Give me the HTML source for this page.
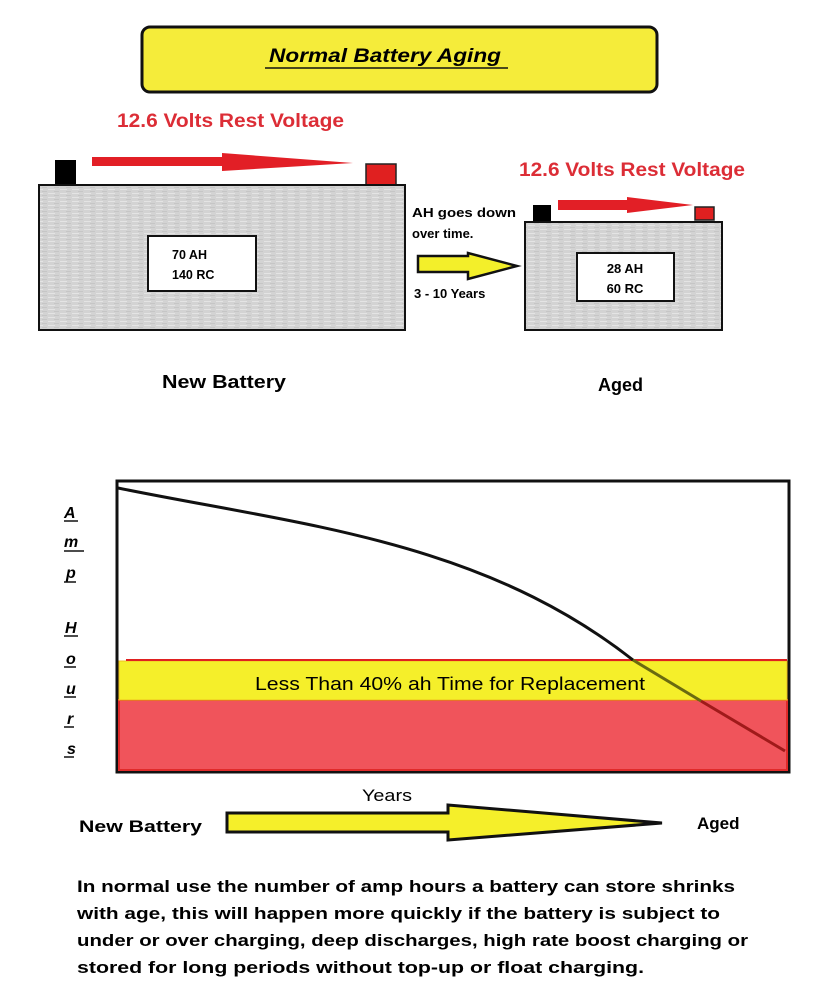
<!DOCTYPE html>
<html><head><meta charset="utf-8"><style>
html,body{margin:0;padding:0;background:#fff;}
svg{display:block;}
text{font-family:"Liberation Sans",sans-serif;}
</style></head><body>
<svg width="840" height="1000" viewBox="0 0 840 1000" xmlns="http://www.w3.org/2000/svg">
<defs>
<pattern id="g" width="12" height="4" patternUnits="userSpaceOnUse">
<rect width="12" height="4" fill="#d3d3d3"/>
<rect x="0" y="1" width="7" height="1" fill="#e4e4e4"/>
<rect x="6" y="3" width="5" height="1" fill="#c6c6c6"/>
</pattern>
</defs>
<!-- title -->
<rect x="142" y="27" width="515" height="65" rx="8" fill="#f5ec3a" stroke="#111" stroke-width="3"/>
<text x="385" y="62" font-size="19" font-weight="bold" font-style="italic" text-anchor="middle" textLength="232" lengthAdjust="spacingAndGlyphs">Normal Battery Aging</text>
<line x1="265" y1="68" x2="508" y2="68" stroke="#111" stroke-width="1.5"/>

<text x="117" y="127" font-size="19" font-weight="bold" fill="#dc2d36" textLength="227" lengthAdjust="spacingAndGlyphs">12.6 Volts Rest Voltage</text>
<!-- big battery -->
<rect x="55" y="160" width="21" height="25" fill="#000"/>
<rect x="366" y="164" width="30" height="21" fill="#e02020" stroke="#222" stroke-width="1.5"/>
<polygon points="92,157 222,157 222,153 353,163 222,171 222,166 92,166" fill="#e21f26"/>
<rect x="39" y="185" width="366" height="145" fill="url(#g)" stroke="#111" stroke-width="2"/>
<rect x="148" y="236" width="108" height="55" fill="#fff" stroke="#111" stroke-width="2"/>
<text x="172" y="259" font-size="12.5" font-weight="bold">70 AH</text>
<text x="172" y="279" font-size="12.5" font-weight="bold">140 RC</text>

<text x="412" y="217" font-size="13" font-weight="bold" textLength="104" lengthAdjust="spacingAndGlyphs">AH goes down</text>
<text x="412" y="238" font-size="13" font-weight="bold">over time.</text>
<polygon points="418,256 468,256 468,253 517,266 468,279 468,272 418,272" fill="#f3ef2a" stroke="#111" stroke-width="2.5"/>
<text x="414" y="298" font-size="13" font-weight="bold">3 - 10 Years</text>

<text x="519" y="176" font-size="19" font-weight="bold" fill="#dc2d36" textLength="226" lengthAdjust="spacingAndGlyphs">12.6 Volts Rest Voltage</text>
<!-- small battery -->
<rect x="533" y="205" width="18" height="17" fill="#000"/>
<rect x="695" y="207" width="19" height="13" fill="#e02020" stroke="#222" stroke-width="1.5"/>
<polygon points="558,200 627,200 627,197 693,205 627,213 627,210 558,210" fill="#e21f26"/>
<rect x="525" y="222" width="197" height="108" fill="url(#g)" stroke="#111" stroke-width="2"/>
<rect x="577" y="253" width="97" height="48" fill="#fff" stroke="#111" stroke-width="2"/>
<text x="625" y="273" font-size="13" font-weight="bold" text-anchor="middle">28 AH</text>
<text x="625" y="293" font-size="13" font-weight="bold" text-anchor="middle">60 RC</text>

<text x="162" y="388" font-size="18" font-weight="bold" textLength="124" lengthAdjust="spacingAndGlyphs">New Battery</text>
<text x="598" y="391" font-size="18" font-weight="bold">Aged</text>

<!-- chart -->
<rect x="117" y="481" width="672" height="291" fill="#fff" stroke="#111" stroke-width="3"/>
<rect x="119" y="700" width="668" height="70" fill="#f0545b" stroke="#e02a2a" stroke-width="2"/>
<rect x="119" y="661" width="668" height="39" fill="#f5ef2a" stroke="#f0c020" stroke-width="1"/>
<line x1="126" y1="660" x2="787" y2="660" stroke="#e02020" stroke-width="2"/>
<path d="M118,488 C300,525 480,540 633,660" fill="none" stroke="#111" stroke-width="3"/>
<line x1="633" y1="660" x2="701" y2="701" stroke="#6a6a10" stroke-width="3"/>
<line x1="701" y1="701" x2="785" y2="751" stroke="#a01a1a" stroke-width="3"/>
<text x="450" y="690" font-size="18" text-anchor="middle" textLength="390" lengthAdjust="spacingAndGlyphs">Less Than 40%  ah Time for Replacement</text>

<g font-size="16" font-weight="bold" font-style="italic">
<text x="64" y="518">A</text>
<text x="64" y="547">m</text>
<text x="66" y="578">p</text>
<text x="65" y="633">H</text>
<text x="66" y="664">o</text>
<text x="66" y="694">u</text>
<text x="67" y="724">r</text>
<text x="67" y="754">s</text>
</g>
<g stroke="#111" stroke-width="1.5">
<line x1="64" y1="521" x2="78" y2="521"/><line x1="64" y1="551" x2="84" y2="551"/>
<line x1="64" y1="582" x2="76" y2="582"/><line x1="64" y1="636" x2="78" y2="636"/>
<line x1="64" y1="667" x2="76" y2="667"/><line x1="64" y1="697" x2="76" y2="697"/>
<line x1="64" y1="727" x2="74" y2="727"/><line x1="64" y1="757" x2="74" y2="757"/>
</g>

<text x="362" y="801" font-size="17" textLength="50" lengthAdjust="spacingAndGlyphs">Years</text>
<polygon points="227,813 448,813 448,805 662,823 448,840 448,832 227,832" fill="#f5ef2a" stroke="#111" stroke-width="3"/>
<text x="79" y="832" font-size="17" font-weight="bold" textLength="123" lengthAdjust="spacingAndGlyphs">New Battery</text>
<text x="697" y="829" font-size="17" font-weight="bold">Aged</text>

<g font-size="17" font-weight="bold">
<text x="77" y="892" textLength="658" lengthAdjust="spacingAndGlyphs">In normal use the number of amp hours a battery can store shrinks</text>
<text x="77" y="919" textLength="643" lengthAdjust="spacingAndGlyphs">with age, this will happen more quickly if the battery is subject to</text>
<text x="77" y="946" textLength="671" lengthAdjust="spacingAndGlyphs">under or over charging, deep discharges, high rate boost charging or</text>
<text x="77" y="973" textLength="567" lengthAdjust="spacingAndGlyphs">stored for long periods without top-up or float charging.</text>
</g>
</svg>
</body></html>
